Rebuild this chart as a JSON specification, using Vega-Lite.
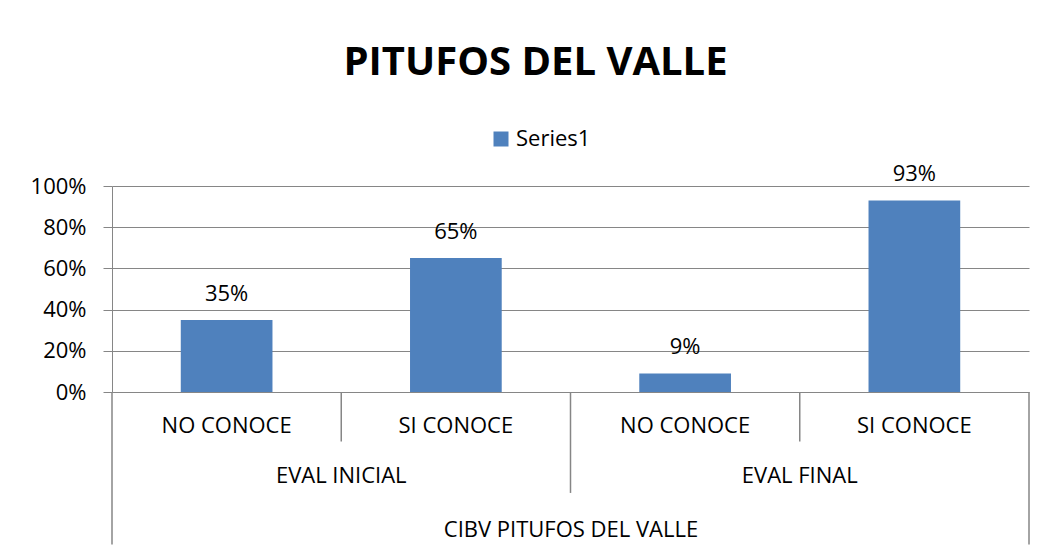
{
  "$schema": "https://vega.github.io/schema/vega-lite/v6.json",
  "width": 917,
  "height": 206,
  "autosize": {"type": "none"},
  "padding": {"left": 112, "top": 186, "right": 16, "bottom": 160},
  "background": "white",
  "config": {"font": "Open Sans", "view": {"stroke": null}},
  "title": {
    "text": "PITUFOS DEL VALLE",
    "fontSize": 40,
    "fontWeight": "bold",
    "color": "black",
    "anchor": "middle",
    "frame": "group",
    "dx": -35,
    "offset": 45
  },
  "data": {
    "values": [
      {"item": "EVAL INICIAL|NO CONOCE", "group": "EVAL INICIAL", "category": "NO CONOCE", "value": 0.35},
      {"item": "EVAL INICIAL|SI CONOCE", "group": "EVAL INICIAL", "category": "SI CONOCE", "value": 0.65},
      {"item": "EVAL FINAL|NO CONOCE", "group": "EVAL FINAL", "category": "NO CONOCE", "value": 0.09},
      {"item": "EVAL FINAL|SI CONOCE", "group": "EVAL FINAL", "category": "SI CONOCE", "value": 0.93}
    ]
  },
  "encoding": {
    "x": {
      "field": "item",
      "type": "nominal",
      "sort": null,
      "scale": {"paddingInner": 0, "paddingOuter": 0},
      "axis": {
        "labelExpr": "split(datum.label, '|')[1]",
        "labelAngle": 0,
        "labelFontSize": 22,
        "labelColor": "black",
        "labelPadding": 23,
        "domain": false,
        "ticks": false,
        "grid": false,
        "title": "CIBV PITUFOS DEL VALLE",
        "titleFontSize": 22,
        "titleFontWeight": "normal",
        "titleColor": "black",
        "titlePadding": 83
      }
    }
  },
  "layer": [
    {
      "mark": {"type": "bar", "width": {"band": 0.4}},
      "encoding": {
        "y": {
          "field": "value",
          "type": "quantitative",
          "scale": {"domain": [0, 1], "nice": false},
          "axis": {
            "format": "%",
            "values": [0, 0.2, 0.4, 0.6, 0.8, 1],
            "grid": true,
            "gridColor": "#868686",
            "gridWidth": 1,
            "domainColor": "#868686",
            "tickColor": "#868686",
            "tickSize": 9,
            "labelFontSize": 22,
            "labelColor": "black",
            "labelPadding": 17,
            "title": null
          }
        },
        "color": {
          "datum": "Series1",
          "type": "nominal",
          "scale": {"range": ["#4F81BD"]},
          "legend": {
            "orient": "none",
            "legendX": 378,
            "legendY": -58,
            "title": null,
            "symbolType": "square",
            "symbolSize": 225,
            "symbolStrokeWidth": 0,
            "labelFontSize": 22,
            "labelColor": "black"
          }
        }
      }
    },
    {
      "mark": {"type": "text", "fontSize": 22, "baseline": "middle", "dy": -26, "color": "black"},
      "encoding": {
        "y": {"field": "value", "type": "quantitative"},
        "text": {"field": "value", "type": "quantitative", "format": ".0%"}
      }
    },
    {
      "transform": [{"filter": "datum.category == 'NO CONOCE'"}],
      "mark": {"type": "text", "fontSize": 22, "baseline": "middle", "color": "black"},
      "encoding": {
        "x": {"field": "item", "type": "nominal", "sort": null, "bandPosition": 1},
        "y": {"datum": -0.41, "type": "quantitative"},
        "text": {"field": "group"}
      }
    },
    {
      "transform": [{"filter": "datum.category == 'SI CONOCE'"}],
      "mark": {"type": "rule", "color": "#868686", "strokeWidth": 1.5},
      "encoding": {
        "x": {"field": "item", "type": "nominal", "sort": null, "bandPosition": 0},
        "y": {"datum": 0, "type": "quantitative"},
        "y2": {"datum": -0.24}
      }
    },
    {
      "transform": [{"filter": "datum.item == 'EVAL FINAL|NO CONOCE'"}],
      "mark": {"type": "rule", "color": "#868686", "strokeWidth": 1.5},
      "encoding": {
        "x": {"field": "item", "type": "nominal", "sort": null, "bandPosition": 0},
        "y": {"datum": 0, "type": "quantitative"},
        "y2": {"datum": -0.49}
      }
    },
    {
      "transform": [{"filter": "datum.item == 'EVAL INICIAL|NO CONOCE'"}],
      "mark": {"type": "rule", "color": "#868686", "strokeWidth": 1.5},
      "encoding": {
        "x": {"field": "item", "type": "nominal", "sort": null, "bandPosition": 0},
        "y": {"datum": 0, "type": "quantitative"},
        "y2": {"datum": -0.74}
      }
    },
    {
      "transform": [{"filter": "datum.item == 'EVAL FINAL|SI CONOCE'"}],
      "mark": {"type": "rule", "color": "#868686", "strokeWidth": 1.5},
      "encoding": {
        "x": {"field": "item", "type": "nominal", "sort": null, "bandPosition": 1},
        "y": {"datum": 0, "type": "quantitative"},
        "y2": {"datum": -0.74}
      }
    }
  ]
}
